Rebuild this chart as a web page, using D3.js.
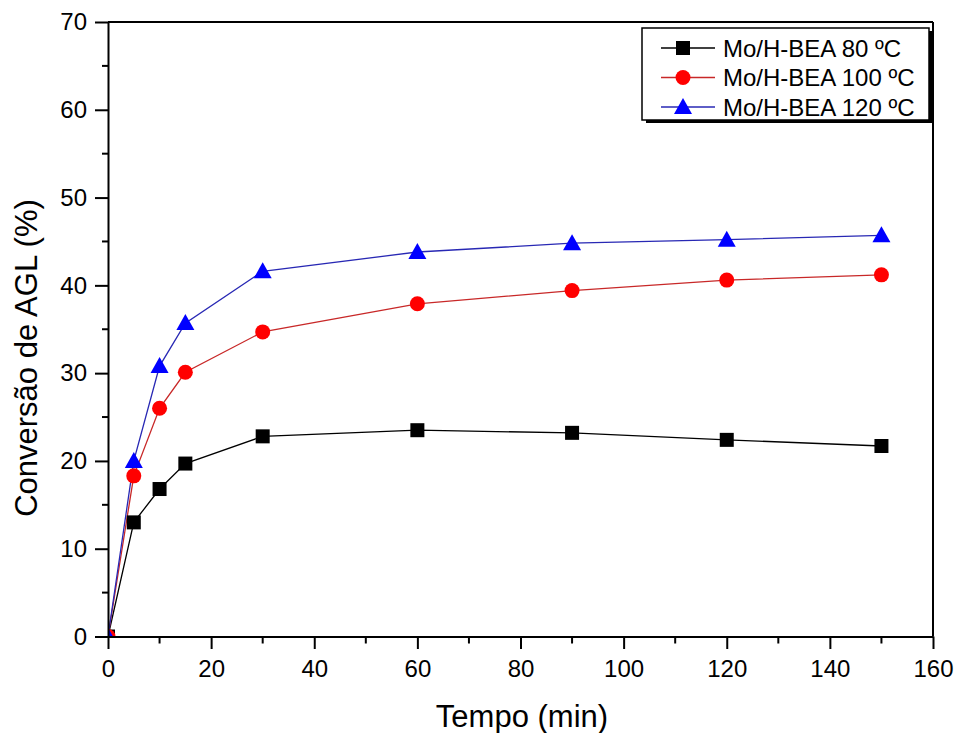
<!DOCTYPE html>
<html>
<head>
<meta charset="utf-8">
<script src="https://cdn.jsdelivr.net/npm/d3@7"></script>
<style>
  body { margin: 0; background: #fff; }
  text { font-family: Arial, "Liberation Sans", sans-serif; fill: #000; }
</style>
</head>
<body>
<div id="chart"></div>
<script>
const tempo = [0, 5, 10, 15, 30, 60, 90, 120, 150];
const conv80 = [0, 13.0, 16.8, 19.7, 22.8, 23.5, 23.2, 22.4, 21.7];
const conv100 = [0, 18.3, 26.0, 30.1, 34.7, 37.9, 39.4, 40.6, 41.2];
const conv120 = [0, 20.0, 30.8, 35.7, 41.6, 43.8, 44.8, 45.2, 45.7];
const seriesNames = ['Mo/H-BEA 80 ºC', 'Mo/H-BEA 100 ºC', 'Mo/H-BEA 120 ºC'];
const xTicks = [0, 20, 40, 60, 80, 100, 120, 140, 160];
const yTicks = [0, 10, 20, 30, 40, 50, 60, 70];

const W = 961, H = 733;
const m = { left: 108, right: 961 - 933, top: 22, bottom: 733 - 636.5 };

const svg = d3.select('#chart').append('svg').attr('width', W).attr('height', H);

const x = d3.scaleLinear().domain([0, 160]).range([m.left, W - m.right]);
const y = d3.scaleLinear().domain([0, 70]).range([H - m.bottom, m.top]);

const series = [
  { name: seriesNames[0], vals: conv80, color: '#000000', line: '#000000', shape: 'square' },
  { name: seriesNames[1], vals: conv100, color: '#ff0000', line: '#c82828', shape: 'circle' },
  { name: seriesNames[2], vals: conv120, color: '#0000ff', line: '#2828b4', shape: 'triangle' }
];

svg.append('defs').append('clipPath').attr('id', 'plot')
  .append('rect').attr('x', x(0)).attr('y', y(70)).attr('width', x(160) - x(0)).attr('height', y(0) - y(70));

function marker(sel, shape, color) {
  if (shape === 'square') {
    sel.append('rect').attr('x', -7).attr('y', -7).attr('width', 14).attr('height', 14).attr('fill', color);
  } else if (shape === 'circle') {
    sel.append('circle').attr('r', 7.5).attr('fill', color);
  } else {
    sel.append('path').attr('d', 'M0,-9L9,7L-9,7Z').attr('fill', color);
  }
}

const plot = svg.append('g').attr('clip-path', 'url(#plot)');
const line = d3.line().x((d, i) => x(tempo[i])).y(d => y(d));
series.forEach(s => {
  plot.append('path').datum(s.vals).attr('d', line)
    .attr('fill', 'none').attr('stroke', s.line).attr('stroke-width', 1.3);
});
series.forEach(s => {
  plot.append('g').selectAll('g').data(s.vals).join('g')
    .attr('transform', (d, i) => `translate(${x(tempo[i])},${y(d)})`)
    .each(function() { marker(d3.select(this), s.shape, s.color); });
});

// frame
svg.append('line').attr('x1', x(0)).attr('x2', x(160)).attr('y1', y(70)).attr('y2', y(70))
  .attr('stroke', '#000').attr('stroke-width', 2);
svg.append('line').attr('x1', x(160)).attr('x2', x(160)).attr('y1', y(0)).attr('y2', y(70))
  .attr('stroke', '#000').attr('stroke-width', 2);

// minor ticks
const xMinor = d3.range(10, 160, 20);
const yMinor = d3.range(5, 70, 10);
svg.append('g').selectAll('line').data(xMinor).join('line')
  .attr('x1', d => x(d)).attr('x2', d => x(d)).attr('y1', y(0)).attr('y2', y(0) + 7)
  .attr('stroke', '#000').attr('stroke-width', 2);
svg.append('g').selectAll('line').data(yMinor).join('line')
  .attr('x1', x(0) - 6).attr('x2', x(0)).attr('y1', d => y(d)).attr('y2', d => y(d))
  .attr('stroke', '#000').attr('stroke-width', 2);

const xAxis = svg.append('g').attr('transform', `translate(0,${y(0)})`)
  .call(d3.axisBottom(x).tickValues(xTicks).tickSize(12.5).tickSizeOuter(0).tickPadding(11));
const yAxis = svg.append('g').attr('transform', `translate(${x(0)},0)`)
  .call(d3.axisLeft(y).tickValues(yTicks).tickSize(13).tickSizeOuter(0).tickPadding(8));
[xAxis, yAxis].forEach(a => {
  a.select('.domain').attr('stroke-width', 2);
  a.selectAll('.tick line').attr('stroke-width', 2);
  a.selectAll('.tick text').attr('font-size', 24).attr('font-family', 'Arial, "Liberation Sans", sans-serif');
});

svg.append('text').attr('x', 522).attr('y', 727)
  .attr('text-anchor', 'middle').attr('font-size', 31).text('Tempo (min)');
svg.append('text').attr('transform', 'translate(37,358) rotate(-90)')
  .attr('text-anchor', 'middle').attr('font-size', 31).text('Conversão de AGL (%)');

// legend
const lg = svg.append('g');
lg.append('rect').attr('x', 646).attr('y', 31).attr('width', 287).attr('height', 92).attr('fill', '#000');
lg.append('rect').attr('x', 642).attr('y', 28).attr('width', 287).attr('height', 92)
  .attr('fill', '#fff').attr('stroke', '#000').attr('stroke-width', 1.5);
series.forEach((s, i) => {
  const cy = 48 + i * 29.5;
  lg.append('line').attr('x1', 661).attr('x2', 715).attr('y1', cy).attr('y2', cy)
    .attr('stroke', s.line).attr('stroke-width', 1.3);
  marker(lg.append('g').attr('transform', `translate(683,${cy})`), s.shape, s.color);
  lg.append('text').attr('x', 723).attr('y', cy + 8.5).attr('font-size', 24).text(s.name);
});
</script>
</body>
</html>
